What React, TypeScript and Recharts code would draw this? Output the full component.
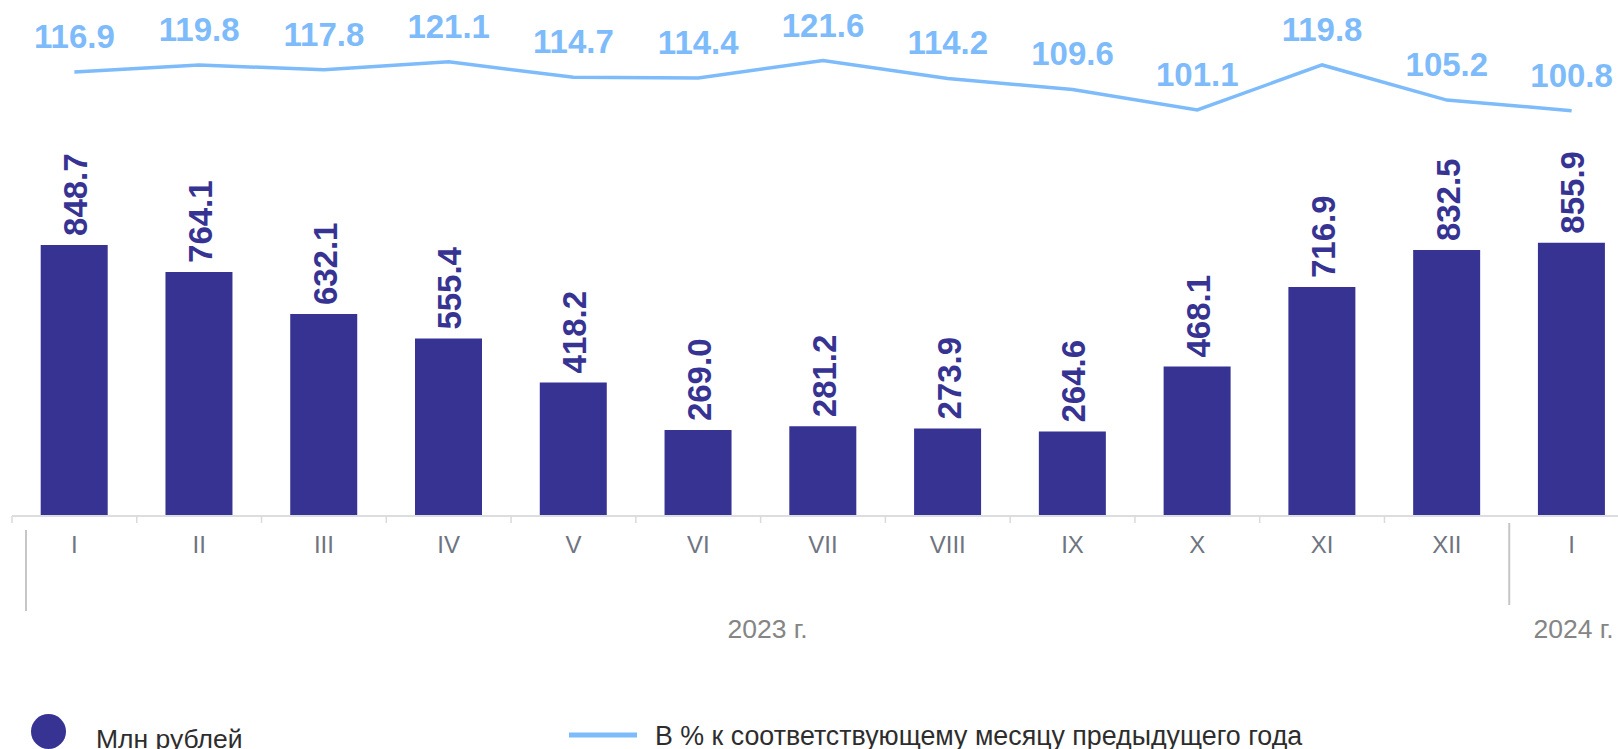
import React from 'react';
import { ComposedChart, Bar, Line, XAxis, YAxis, LabelList } from 'recharts';

const months = ['I', 'II', 'III', 'IV', 'V', 'VI', 'VII', 'VIII', 'IX', 'X', 'XI', 'XII', 'I'];
const rubles = [848.7, 764.1, 632.1, 555.4, 418.2, 269.0, 281.2, 273.9, 264.6, 468.1, 716.9, 832.5, 855.9];
const percent = [116.9, 119.8, 117.8, 121.1, 114.7, 114.4, 121.6, 114.2, 109.6, 101.1, 119.8, 105.2, 100.8];
const yearGroups = [
  { label: '2023 г.', from: 0, to: 11 },
  { label: '2024 г.', from: 12, to: 12 },
];
const legendBar = 'Млн рублей';
const legendLine = 'В % к соответствующему месяцу предыдущего года';

const data = months.map((m, i) => ({ id: i, month: m, rubles: rubles[i], pct: percent[i] }));

const BAR_COLOR = '#363393';
const LINE_COLOR = '#7dbbfb';
const FONT = '"Liberation Sans", Arial, sans-serif';

const MonthTick = (props: any) => {
  const { x, y, payload, index } = props;
  const half = payload && typeof payload.offset === 'number' && payload.offset > 0 ? payload.offset : 62.4;
  const i = typeof index === 'number' ? index : payload.index;
  const left = x - half;
  const group = yearGroups.find((g) => g.from === i);
  const isGroupStart = !!group && i > 0;
  const els: any[] = [];
  if (isGroupStart) {
    els.push(<line key="sep" x1={left} x2={left} y1={y + 7} y2={y + 89} stroke="#c6c6c6" strokeWidth={2} />);
  } else {
    els.push(<line key="tk" x1={left} x2={left} y1={y} y2={y + 7} stroke="#dadada" strokeWidth={1.5} />);
  }
  if (i === 0) {
    els.push(<line key="sep0" x1={left + 14} x2={left + 14} y1={y + 14} y2={y + 95} stroke="#c6c6c6" strokeWidth={2} />);
  }
  els.push(
    <text key="lbl" x={x} y={y + 37} textAnchor="middle" fill="#6e7480" fontSize={24} fontFamily={FONT}>
      {months[i]}
    </text>
  );
  if (group) {
    let cx: number;
    if (i === 0) {
      const gl = left + 14;
      const gr = left + (group.to + 1) * 2 * half;
      cx = (gl + gr) / 2;
    } else {
      cx = x + ((group.to - group.from) * 2 * half) / 2 + 2;
    }
    els.push(
      <text key="yr" x={cx} y={y + 122} textAnchor="middle" fill="#858585" fontSize={26.5} fontFamily={FONT}>
        {group.label}
      </text>
    );
  }
  return <g>{els}</g>;
};

const BarLabel = (props: any) => {
  const { x, y, width, value } = props;
  const cx = x + width / 2;
  const ty = y - 9;
  return (
    <text
      x={cx}
      y={ty}
      dy={13}
      transform={`rotate(-90 ${cx} ${ty})`}
      textAnchor="start"
      fill={BAR_COLOR}
      fontSize={33}
      fontWeight="bold"
      fontFamily={FONT}
    >
      {Number(value).toFixed(1)}
    </text>
  );
};

const LineLabel = (props: any) => {
  const { x, y, value } = props;
  return (
    <text x={x} y={y - 24} textAnchor="middle" fill={LINE_COLOR} fontSize={33} fontWeight="bold" fontFamily={FONT}>
      {Number(value).toFixed(1)}
    </text>
  );
};

export default function App() {
  return (
    <div
      style={{
        position: 'fixed',
        left: 0,
        top: 0,
        width: 1618,
        height: 749,
        overflow: 'hidden',
        background: '#ffffff',
      }}
    >
      <ComposedChart
        width={1650}
        height={749}
        data={data}
        margin={{ top: 20, right: 16, left: 12, bottom: 193 }}
        barCategoryGap="23%"
      >
        <XAxis
          dataKey="id"
          type="category"
          height={40}
          axisLine={{ stroke: '#dcdde1', strokeWidth: 2 }}
          tickLine={false}
          tickSize={0}
          tickMargin={0}
          interval={0}
          tick={<MonthTick />}
        />
        <YAxis yAxisId="bars" hide domain={[0, 1553]} />
        <YAxis yAxisId="pct" hide domain={[-67.8, 138.5]} orientation="right" />
        <Bar yAxisId="bars" dataKey="rubles" fill={BAR_COLOR} isAnimationActive={false}>
          <LabelList dataKey="rubles" content={<BarLabel />} />
        </Bar>
        <Line
          yAxisId="pct"
          dataKey="pct"
          stroke={LINE_COLOR}
          strokeWidth={3.5}
          dot={false}
          activeDot={false}
          type="linear"
          isAnimationActive={false}
        >
          <LabelList dataKey="pct" content={<LineLabel />} />
        </Line>
      </ComposedChart>
      <svg
        width={1618}
        height={60}
        style={{ position: 'absolute', left: 0, top: 689 }}
      >
        <circle cx={48.5} cy={42.5} r={17.5} fill={BAR_COLOR} />
        <text x={96} y={59} fill="#2d2d2d" fontSize={26.5} fontFamily={FONT}>
          {legendBar}
        </text>
        <line x1={569} x2={637} y1={46} y2={46} stroke={LINE_COLOR} strokeWidth={5} />
        <text x={655} y={56} fill="#2d2d2d" fontSize={26.8} fontFamily={FONT}>
          {legendLine}
        </text>
      </svg>
    </div>
  );
}
